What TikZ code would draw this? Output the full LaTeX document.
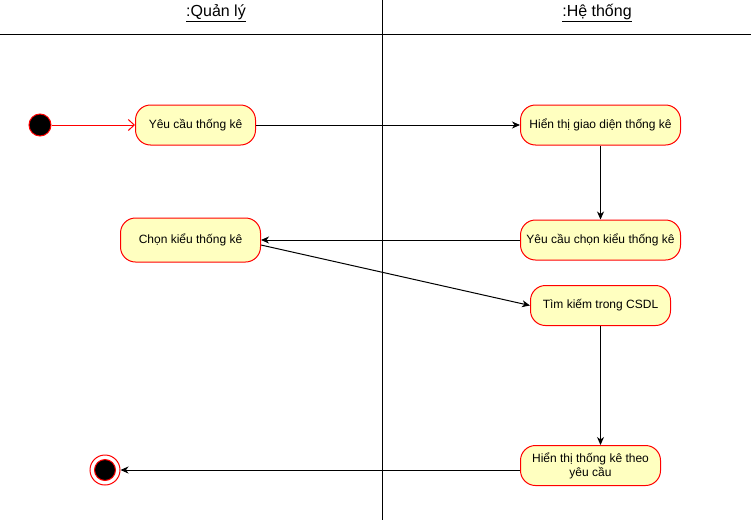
\documentclass[tikz,border=0pt]{standalone}
\usepackage{fontspec}
\setmainfont{Liberation Sans}
\usetikzlibrary{arrows.meta,calc}
\definecolor{actfill}{HTML}{FFFFC0}
\definecolor{actline}{HTML}{FF0000}
\begin{document}
\begin{tikzpicture}[x=1pt,y=-1pt,
  action/.style={draw=actline,fill=actfill,rounded corners=15pt,line width=1pt,
    font=\fontsize{12}{14}\selectfont,align=center,inner sep=0pt},
  flow/.style={draw=black,line width=1pt,-{Stealth[length=8pt,width=7pt,inset=2.5pt]}},
  startflow/.style={draw=actline,line width=1pt,-{Straight Barb[length=6pt,width=11pt]}},
  lane/.style={draw=black,line width=1pt},
  lanetitle/.style={font=\fontsize{16}{18}\selectfont}
]
\useasboundingbox (0,0) rectangle (751,522);

% swimlane frame
\coordinate (hl) at (0,34.5);
\coordinate (hr) at (751,34.5);
\coordinate (vt) at (382.5,0);
\coordinate (vb) at (382.5,520);
\draw[lane] (hl) -- (hr);
\draw[lane] (vt) -- (vb);
\node[lanetitle] (laneA) at (216,13) {\underline{:Quản lý}};
\node[lanetitle] (laneB) at (597,13) {\underline{:Hệ thống}};

% initial and final states
\node[circle,fill=black,draw=actline,line width=1pt,minimum size=22pt,inner sep=0pt] (start) at (40,125) {};
\node[circle,draw=actline,line width=1pt,minimum size=30pt,inner sep=0pt] (end) at (105,470) {};
\node[circle,fill=black,draw=actline,line width=1pt,minimum size=21pt,inner sep=0pt] (endcore) at (105,470) {};

% actions
\node[action,minimum width=120pt,minimum height=40pt] (req) at (195.5,125) {Yêu cầu thống kê};
\node[action,minimum width=160pt,minimum height=40pt] (show) at (600.5,125) {Hiển thị giao diện thống kê};
\node[action,minimum width=160pt,minimum height=40pt] (ask) at (600.5,240) {Yêu cầu chọn kiểu thống kê};
\node[action,minimum width=140pt,minimum height=44pt] (pick) at (190.5,240) {Chọn kiểu thống kê};
\node[action,minimum width=140pt,minimum height=40pt] (search) at (600.5,305.5) {Tìm kiếm trong CSDL};
\node[action,minimum width=140pt,minimum height=40pt] (result) at (590.5,465.5) {Hiển thị thống kê theo\\yêu cầu};

% transitions
\draw[startflow] (start) -- (req);
\draw[flow] (req) -- (show);
\draw[flow] (show) -- (ask);
\draw[flow] (ask) -- (pick);
\draw[flow] ($(pick.east)+(0,5)$) -- (search.west);
\draw[flow] (search.south) -- (search.south |- result.north);
\draw[flow] (result.west |- end) -- (end);
\end{tikzpicture}
\end{document}
